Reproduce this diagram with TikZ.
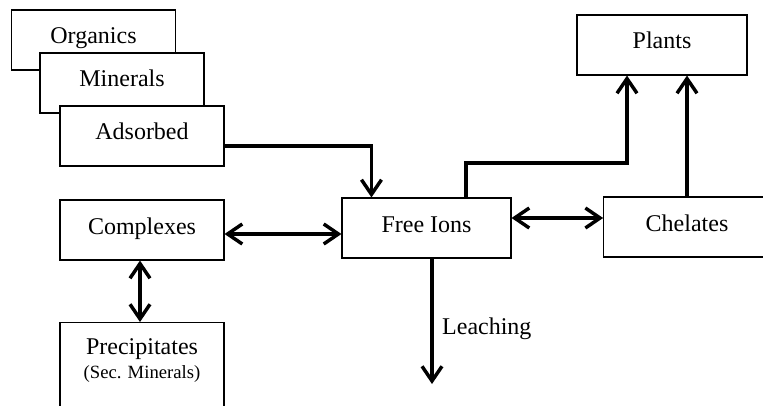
\documentclass[tikz,border=0pt]{standalone}
\usepackage{fontspec}
\setmainfont{Liberation Serif}
\usetikzlibrary{arrows.meta,calc}

\begin{document}
\begin{tikzpicture}[x=0.75pt, y=-0.75pt,
    barb/.tip={Straight Barb[length=11pt,width=15pt]},
    box/.style={draw, line width=0.8pt, fill=white, minimum width=123pt, minimum height=45pt, inner sep=0pt, text height=12pt, text depth=6pt, font=\fontsize{18}{21}\selectfont},
    flow/.style={line width=2.6pt, -barb},
    both/.style={line width=2.6pt, barb-barb}]
                \useasboundingbox (0,0) rectangle (763,406);
                \clip (0,0) rectangle (763,406);

                % Stacked pools (top left)
                \node[box] (organics) at (93.5,40) {Organics};
                \node[box] (minerals) at (122,83) {Minerals};
                \node[box] (adsorbed) at (142,136) {Adsorbed};

                % Left column
                \node[box] (complexes) at (142,230) {Complexes};
                \node[box, anchor=north, align=center, inner ysep=12pt, text height=, text depth=40pt] (prec) at (142,322)
                    {Precipitates\\[-3pt]{\fontsize{14}{16}\selectfont (Sec. Minerals)}};

                % Centre and right
                \node[box, minimum width=126.75pt] (freeions) at (426.5,228) {Free Ions};
                \node[box, minimum width=125pt] (chelates) at (687,227) {Chelates};
                \node[box, minimum width=127.5pt] (plants) at (662,45) {Plants};

                % Flows
                \draw[flow] ($(adsorbed.east)+(0,10)$) -| ($(freeions.north west)+(30,0)$); % Release
                \coordinate (bend) at (627,163);
                \draw[flow] ($(freeions.north)+(39.5,0)$) |- (bend) -- (bend |- plants.south); % Uptake
                \draw[flow] (chelates.north) -- (chelates.north |- plants.south);
                \draw[both] ($(freeions.east)+(0,-10)$) -- ($(chelates.west)+(0,-9)$);
                \draw[both] ($(complexes.east)+(0,4)$) -- ($(freeions.west)+(0,6)$);
                \draw[both] ($(complexes.south)+(-2,0)$) -- ($(prec.north)+(-2,0)$);

                % Leaching
                \coordinate (drain) at (432,384);
                \draw[flow] (drain |- freeions.south) -- (drain)
                    node[pos=0.56, right, xshift=3pt, font=\fontsize{18}{21}\selectfont] (leach) {Leaching};
            \end{tikzpicture}
\end{document}
